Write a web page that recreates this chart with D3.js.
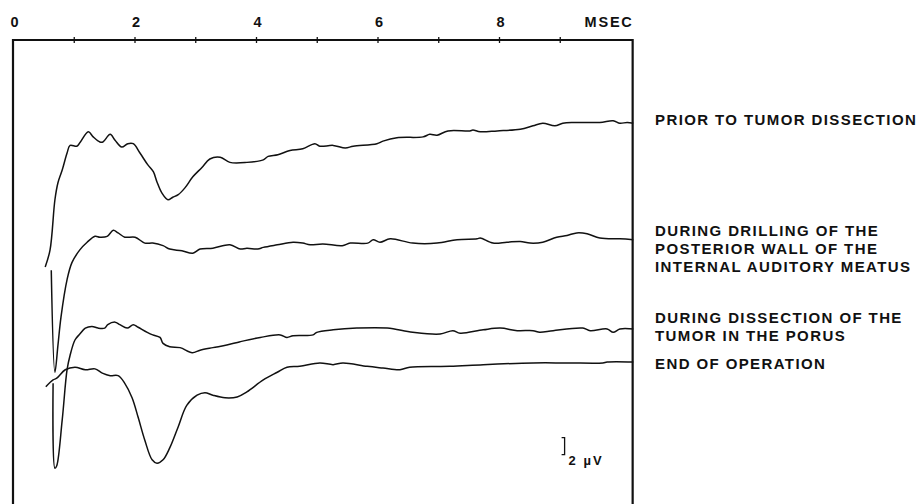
<!DOCTYPE html>
<html>
<head>
<meta charset="utf-8">
<script src="https://cdn.jsdelivr.net/npm/d3@7"></script>
<style>
  body { margin: 0; background: #fff; }
  svg text { font-family: "Liberation Sans", Arial, Helvetica, sans-serif; font-weight: bold; fill: #111; }
</style>
</head>
<body>
<svg id="chart" width="917" height="504"></svg>
<script>
// time axis (ms)
const tickValues = [1, 2, 3, 4, 5, 6, 7, 8, 9];
const tickLabels = [0, 2, 4, 6, 8];
const axisUnit = "MSEC";
const xMax = 10.2;

// traces, [ms, µV]
const prior = [
  [0.53,27.9],[0.61,29.9],[0.69,35.8],[0.74,37.8],[0.81,39.3],[0.89,41.3],[0.94,42.2],[1.05,42.1],
  [1.10,42.5],[1.24,43.8],[1.32,43.2],[1.43,42.6],[1.48,42.6],[1.60,43.5],[1.68,42.8],[1.79,42.0],
  [1.89,42.4],[1.98,42.4],[2.09,41.3],[2.22,39.9],[2.31,39.1],[2.37,37.9],[2.45,36.6],[2.55,35.8],
  [2.63,36.1],[2.72,36.4],[2.83,37.2],[2.96,38.5],[3.11,39.6],[3.24,40.6],[3.41,40.8],[3.57,40.2],
  [3.85,40.2],[4.12,40.5],[4.20,40.9],[4.36,41.1],[4.56,41.6],[4.77,41.8],[4.97,42.4],[5.05,42.1],
  [5.27,42.2],[5.47,41.9],[5.60,42.1],[5.99,42.4],[6.09,42.7],[6.32,43.1],[6.75,43.2],[6.86,43.5],
  [6.98,43.4],[7.16,43.9],[7.52,43.9],[7.57,44.0],[7.69,43.8],[7.97,43.9],[8.35,44.1],[8.56,44.5],
  [8.72,44.8],[8.92,44.5],[9.05,44.8],[9.22,44.9],[9.66,44.9],[9.88,45.1],[9.99,44.8],[10.11,44.9],[10.21,44.8]
];
const drilling = [
  [0.63,27.5],[0.69,15.5],[0.74,18.7],[0.79,22.0],[0.89,26.4],[0.97,28.4],[1.10,29.9],[1.22,30.8],
  [1.35,31.5],[1.43,31.4],[1.55,31.5],[1.65,32.2],[1.73,31.9],[1.84,31.4],[2.01,31.4],[2.17,30.7],
  [2.30,30.7],[2.47,30.4],[2.58,30.0],[2.78,29.8],[2.96,29.5],[3.08,30.0],[3.29,30.1],[3.57,30.5],
  [3.74,30.0],[3.85,30.1],[4.03,30.0],[4.12,30.2],[4.35,30.5],[4.61,30.8],[4.77,30.7],[4.89,30.5],
  [5.10,30.6],[5.42,30.4],[5.55,30.7],[5.84,30.7],[5.93,31.1],[6.04,30.8],[6.21,31.2],[6.58,30.7],
  [6.98,30.7],[7.31,31.1],[7.64,31.2],[7.69,31.3],[7.90,30.7],[8.13,30.8],[8.35,30.9],[8.51,30.7],
  [8.72,30.8],[8.95,31.4],[9.12,31.6],[9.28,31.9],[9.45,31.8],[9.66,31.3],[9.99,31.2],[10.21,31.1]
];
const porus = [
  [0.66,14.2],[0.69,4.2],[0.72,4.5],[0.81,9.9],[0.89,15.8],[0.94,17.5],[1.02,19.3],[1.10,20.0],
  [1.19,20.7],[1.30,20.9],[1.40,20.7],[1.51,20.7],[1.56,21.1],[1.68,21.4],[1.76,21.1],[1.88,20.7],
  [1.98,21.1],[2.06,20.8],[2.21,20.2],[2.30,19.9],[2.42,19.6],[2.47,18.9],[2.58,18.5],[2.75,18.4],
  [2.95,17.8],[3.08,18.1],[3.29,18.4],[3.52,18.7],[3.74,19.1],[4.07,19.6],[4.40,19.9],[4.51,19.6],
  [4.61,19.8],[4.94,19.9],[5.00,20.2],[5.27,20.5],[5.66,20.7],[6.16,20.7],[6.58,20.2],[7.03,20.0],
  [7.24,20.4],[7.36,20.1],[7.74,20.5],[8.02,20.7],[8.30,20.4],[8.56,20.4],[8.67,20.2],[8.89,20.4],
  [9.38,20.7],[9.50,20.4],[9.78,20.6],[9.88,20.2],[9.99,20.6],[10.21,20.6]
];
const endOp = [
  [0.54,13.8],[0.66,14.6],[0.72,14.8],[0.86,15.8],[1.02,16.1],[1.19,15.8],[1.35,15.9],[1.47,15.4],
  [1.60,15.1],[1.73,15.1],[1.84,14.2],[1.96,12.5],[2.06,10.2],[2.17,7.5],[2.29,5.2],[2.37,4.8],
  [2.47,5.2],[2.58,6.6],[2.72,9.1],[2.86,11.6],[3.03,12.8],[3.16,13.1],[3.29,12.8],[3.49,12.5],
  [3.69,12.6],[3.85,13.2],[4.12,14.6],[4.35,15.5],[4.51,16.1],[4.72,16.2],[5.05,16.6],[5.27,16.4],
  [5.43,16.6],[5.83,16.2],[6.09,16.0],[6.37,15.8],[6.53,16.1],[7.19,16.2],[7.74,16.4],[8.56,16.6],
  [9.12,16.6],[9.71,16.6],[9.78,16.7],[10.21,16.7]
];

const traces = [prior, drilling, porus, endOp];
const traceLabels = [
  ["PRIOR TO TUMOR DISSECTION"],
  ["DURING DRILLING OF THE", "POSTERIOR WALL OF THE", "INTERNAL AUDITORY MEATUS"],
  ["DURING DISSECTION OF THE", "TUMOR IN THE PORUS"],
  ["END OF OPERATION"]
];

// calibration bar
const calTime = 9.08;
const calFrom = 5.8;
const calSize = 2;
const calText = "2 µV";

// layout
const W = 917, H = 504;
const topY = 40;
const labelX = 655;
const labelDy = [2, -4, -6, 7];
const lineH = 18;

const svg = d3.select("#chart");

const x = d3.scaleLinear().domain([0, 10]).range([13, 620.5]);
const y = d3.scaleLinear().domain([0, 54.6]).range([H, topY]);

// frame
svg.append("path")
  .attr("d", `M${x(0)},${H} V${topY} H${x(xMax)} V${H}`)
  .attr("fill", "none")
  .attr("stroke", "#111")
  .attr("stroke-width", 2.2);

// top time axis
const axis = d3.axisTop(x)
  .tickValues(tickValues)
  .tickSize(3)
  .tickFormat("");
const gAxis = svg.append("g")
  .attr("transform", `translate(0,${topY})`)
  .call(axis);
gAxis.select(".domain").remove();
gAxis.selectAll(".tick line")
  .attr("y1", 3).attr("y2", -3)
  .attr("stroke", "#111").attr("stroke-width", 1.3);

svg.selectAll(".tlabel")
  .data(tickLabels)
  .join("text")
  .attr("class", "tlabel")
  .attr("x", d => x(d) + 1.5)
  .attr("y", 27)
  .attr("text-anchor", "middle")
  .attr("font-size", 14.5)
  .text(d => d);

svg.append("text")
  .attr("x", x(xMax) + 1)
  .attr("y", 27)
  .attr("text-anchor", "end")
  .attr("font-size", 14.5)
  .attr("letter-spacing", 1.8)
  .text(axisUnit);

// traces
const line = d3.line()
  .x(d => x(d[0]))
  .y(d => y(d[1]))
  .curve(d3.curveCatmullRom.alpha(0.5));

svg.selectAll(".trace")
  .data(traces)
  .join("path")
  .attr("class", "trace")
  .attr("d", line)
  .attr("fill", "none")
  .attr("stroke", "#111")
  .attr("stroke-width", 1.5)
  .attr("stroke-linejoin", "round");

// labels beside each trace end
const labelGroups = svg.selectAll(".label")
  .data(traces)
  .join("text")
  .attr("class", "label")
  .attr("font-size", 15)
  .attr("letter-spacing", 1.4);

labelGroups.each(function(d, i) {
  const yEnd = y(d[d.length - 1][1]) + labelDy[i];
  d3.select(this).selectAll("tspan")
    .data(traceLabels[i])
    .join("tspan")
    .attr("x", labelX)
    .attr("y", (t, j) => yEnd + j * lineH)
    .text(t => t);
});

// 2 µV calibration bracket
const cx = x(calTime);
svg.append("path")
  .attr("d", `M${cx - 3},${y(calFrom + calSize)} H${cx} V${y(calFrom)} H${cx - 3}`)
  .attr("fill", "none")
  .attr("stroke", "#111")
  .attr("stroke-width", 1.3);

svg.append("text")
  .attr("x", cx + 4)
  .attr("y", y(calFrom) + 10)
  .attr("font-size", 13)
  .attr("letter-spacing", 2)
  .text(calText);
</script>
</body>
</html>
